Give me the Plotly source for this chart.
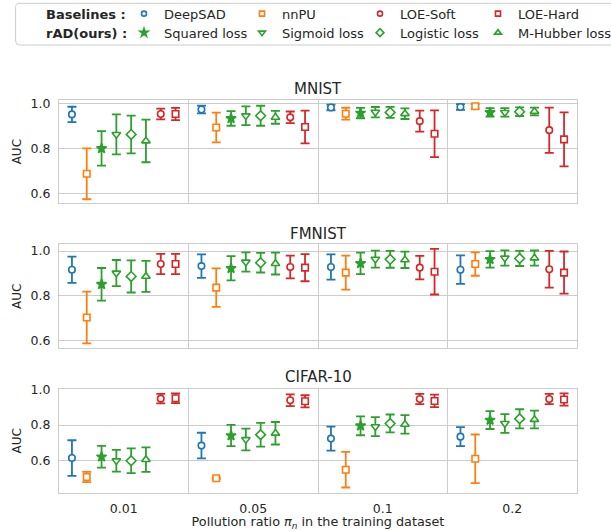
import plotly.graph_objects as go

categories = ["0.01", "0.05", "0.1", "0.2"]
methods = ["DeepSAD", "nnPU", "Squared loss", "Sigmoid loss", "Logistic loss",
           "M-Hubber loss", "LOE-Soft", "LOE-Hard"]
datasets = ["MNIST", "FMNIST", "CIFAR-10"]
group_headers = ["Baselines :", "rAD(ours) :"]

# mean AUC per method (rows follow `methods`), columns follow `categories`
mnist_mean = [
    [0.951, 0.973, 0.982, 0.984],
    [0.687, 0.893, 0.954, 0.987],
    [0.800, 0.933, 0.957, 0.960],
    [0.862, 0.945, 0.961, 0.960],
    [0.862, 0.945, 0.960, 0.963],
    [0.833, 0.938, 0.954, 0.964],
    [0.953, 0.938, 0.921, 0.881],
    [0.953, 0.895, 0.865, 0.840],
]
mnist_std = [
    [0.034, 0.017, 0.0125, 0.0125],
    [0.113, 0.066, 0.0265, 0.010],
    [0.077, 0.0325, 0.023, 0.019],
    [0.089, 0.0415, 0.023, 0.019],
    [0.084, 0.0445, 0.0245, 0.019],
    [0.0945, 0.0285, 0.0235, 0.0175],
    [0.024, 0.026, 0.0465, 0.1005],
    [0.027, 0.073, 0.104, 0.120],
]
fmnist_mean = [
    [0.917, 0.933, 0.929, 0.917],
    [0.704, 0.837, 0.904, 0.942],
    [0.852, 0.923, 0.945, 0.963],
    [0.902, 0.951, 0.964, 0.969],
    [0.887, 0.948, 0.963, 0.967],
    [0.887, 0.944, 0.961, 0.969],
    [0.942, 0.929, 0.926, 0.919],
    [0.942, 0.926, 0.908, 0.904],
]
fmnist_std = [
    [0.0585, 0.0525, 0.056, 0.0635],
    [0.1155, 0.086, 0.0755, 0.052],
    [0.0725, 0.054, 0.0475, 0.037],
    [0.058, 0.043, 0.0375, 0.034],
    [0.0715, 0.0435, 0.0375, 0.0335],
    [0.069, 0.0485, 0.0365, 0.0335],
    [0.045, 0.0505, 0.0525, 0.082],
    [0.045, 0.0605, 0.1015, 0.094],
]
cifar_mean = [
    [0.615, 0.685, 0.724, 0.735],
    [0.509, 0.502, 0.550, 0.611],
    [0.622, 0.741, 0.796, 0.828],
    [0.600, 0.719, 0.791, 0.809],
    [0.600, 0.746, 0.809, 0.835],
    [0.606, 0.754, 0.804, 0.831],
    [0.948, 0.939, 0.946, 0.946],
    [0.950, 0.933, 0.935, 0.943],
]
cifar_std = [
    [0.100, 0.072, 0.067, 0.053],
    [0.0285, 0.003, 0.100, 0.136],
    [0.061, 0.0595, 0.053, 0.050],
    [0.061, 0.061, 0.0535, 0.0525],
    [0.0695, 0.0665, 0.050, 0.0535],
    [0.0685, 0.063, 0.0515, 0.050],
    [0.027, 0.0325, 0.0285, 0.0285],
    [0.027, 0.034, 0.035, 0.0345],
]
y_ticks = [0.6, 0.8, 1.0]
y_ticktext = ["0.6", "0.8", "1.0"]
y_ranges = [[0.556, 1.015], [0.567, 1.030], [0.421, 1.002]]

BLUE, ORANGE, GREEN, RED = "#1f77b4", "#ff7f0e", "#2ca02c", "#d62728"
colors = [BLUE, ORANGE, GREEN, GREEN, GREEN, GREEN, RED, RED]
symbols = ["circle", "square", "star", "triangle-down", "diamond",
           "triangle-up", "circle", "square"]
sizes = [6.5, 6.5, 7.5, 7.5, 7.5, 7.5, 6.5, 6.5]
legend_sizes = [5, 5, 6, 6, 6, 6, 5, 5]
fills = ["white", "white", GREEN, "white", "white", "white", "white", "white"]
# legend placement: which legend row, and order in that row
legend_row = ["legend", "legend", "legend2", "legend2", "legend2", "legend2",
              "legend", "legend"]
ranks = [2, 3, 2, 3, 4, 5, 4, 5]

TXT = "#262626"
GRID = "#cccccc"
FONT = "DejaVu Sans"
ENTRY_W = 73

all_means = [mnist_mean, fmnist_mean, cifar_mean]
all_stds = [mnist_std, fmnist_std, cifar_std]

fig = go.Figure()

# legend header entries (no symbol)
for name, lg in zip(group_headers, ["legend", "legend2"]):
    fig.add_trace(go.Scatter(x=[None], y=[None], mode="markers", name=f"<b>{name}</b>",
                             marker=dict(color="rgba(0,0,0,0)", size=1,
                                         line=dict(width=0, color="rgba(0,0,0,0)")),
                             legend=lg, legendrank=1, legendwidth=ENTRY_W,
                             showlegend=True, hoverinfo="skip"))

n = len(methods)
# legend-only entries with smaller symbols
for m in range(n):
    last_col = ranks[m] == 5
    fig.add_trace(go.Scatter(
        x=[None], y=[None], mode="markers", name=methods[m], legendgroup=methods[m],
        showlegend=True, legend=legend_row[m], legendrank=ranks[m],
        legendwidth=None if last_col else ENTRY_W,
        marker=dict(symbol=symbols[m], size=legend_sizes[m], color=fills[m],
                    line=dict(color=colors[m], width=1.6)),
    ))

for d, ds in enumerate(datasets):
    xa = "x" if d == 0 else f"x{d+1}"
    ya = "y" if d == 0 else f"y{d+1}"
    for m in range(n):
        off = (m - (n - 1) / 2) * 0.8 / (n - 1)
        xs = [i + off for i in range(len(categories))]
        fig.add_trace(go.Scatter(
            x=xs, y=all_means[d][m], mode="markers", name=methods[m],
            legendgroup=methods[m], showlegend=False,
            xaxis=xa, yaxis=ya,
            marker=dict(symbol=symbols[m], size=sizes[m], color=fills[m],
                        line=dict(color=colors[m], width=1.6)),
            error_y=dict(type="data", array=all_stds[d][m], color=colors[m],
                         thickness=1.8, width=4.5),
        ))

W, H = 611, 531
ml, mr, mt, mb = 59, 0, 50, 30
pw = W - ml - mr
ph = H - mt - mb
plot_right = 577

def py(p):
    return (H - mb - p) / ph

def px(p):
    return (p - ml) / pw

panel_px = [(100, 203.3), (244.3, 348.3), (389, 492.7)]
title_px = [89.5, 234, 377.5]

leg_common = dict(orientation="h", x=px(6), xanchor="left", yanchor="top",
                  font=dict(family=FONT, size=13, color=TXT),
                  borderwidth=0, bgcolor="rgba(0,0,0,0)",
                  traceorder="normal", itemclick=False, itemdoubleclick=False)

# rounded legend frame
bx0, bx1, by0, by1, r = 15.6, 640, 3.3, 45, 4
frame = (f"M {px(bx0 + r)} {py(by0)} L {px(bx1 - r)} {py(by0)} "
         f"Q {px(bx1)} {py(by0)} {px(bx1)} {py(by0 + r)} L {px(bx1)} {py(by1 - r)} "
         f"Q {px(bx1)} {py(by1)} {px(bx1 - r)} {py(by1)} L {px(bx0 + r)} {py(by1)} "
         f"Q {px(bx0)} {py(by1)} {px(bx0)} {py(by1 - r)} L {px(bx0)} {py(by0 + r)} "
         f"Q {px(bx0)} {py(by0)} {px(bx0 + r)} {py(by0)} Z")

layout = dict(
    width=W, height=H,
    margin=dict(l=ml, r=mr, t=mt, b=mb, autoexpand=False),
    plot_bgcolor="white", paper_bgcolor="white",
    font=dict(family=FONT, size=12, color=TXT),
    showlegend=True,
    legend=dict(y=py(-1.3), **leg_common),
    legend2=dict(y=py(17.7), **leg_common),
    shapes=[dict(type="path", path=frame, xref="paper", yref="paper",
                 line=dict(color=GRID, width=1), fillcolor="white", layer="below")],
)
annotations = []
for d in range(3):
    top, bot = panel_px[d]
    sfx = "" if d == 0 else str(d + 1)
    layout["xaxis" + sfx] = dict(
        domain=[0, px(plot_right)], anchor="y" + sfx, range=[-0.5, 3.5],
        tickmode="array", tickvals=list(range(len(categories))), ticktext=categories,
        showticklabels=(d == 2), showgrid=False, zeroline=False,
        showline=True, mirror=True, linecolor=GRID, linewidth=1.25,
        ticks="", ticklabelstandoff=4, tickfont=dict(size=12.5, color=TXT),
        minor=dict(tickmode="array", tickvals=[0.5, 1.5, 2.5], showgrid=True,
                   gridcolor=GRID, gridwidth=1, ticks=""),
    )
    layout["yaxis" + sfx] = dict(
        domain=[py(bot), py(top)], anchor="x" + sfx, range=y_ranges[d],
        tickmode="array", tickvals=y_ticks, ticktext=y_ticktext,
        showgrid=True, gridcolor=GRID, gridwidth=1, zeroline=False,
        showline=True, mirror=True, linecolor=GRID, linewidth=1.25,
        ticks="", ticklabelstandoff=5, tickfont=dict(size=12.5, color=TXT),
        title=dict(text="AUC", font=dict(size=12, color=TXT), standoff=6),
    )
    annotations.append(dict(text=datasets[d], x=px((ml + plot_right) / 2), xref="paper",
                            y=py(title_px[d]), yref="paper", xanchor="center",
                            yanchor="middle", showarrow=False,
                            font=dict(size=15, color=TXT, family=FONT)))
layout["xaxis3"]["title"] = dict(
    text="Pollution ratio <i>π</i><sub><i>n</i></sub> in the training dataset",
    font=dict(size=12.8, color=TXT), standoff=20)
layout["annotations"] = annotations
fig.update_layout(**layout)

fig.write_html("out.html", config={"displayModeBar": False},
               post_script="document.body.style.margin='0';")
